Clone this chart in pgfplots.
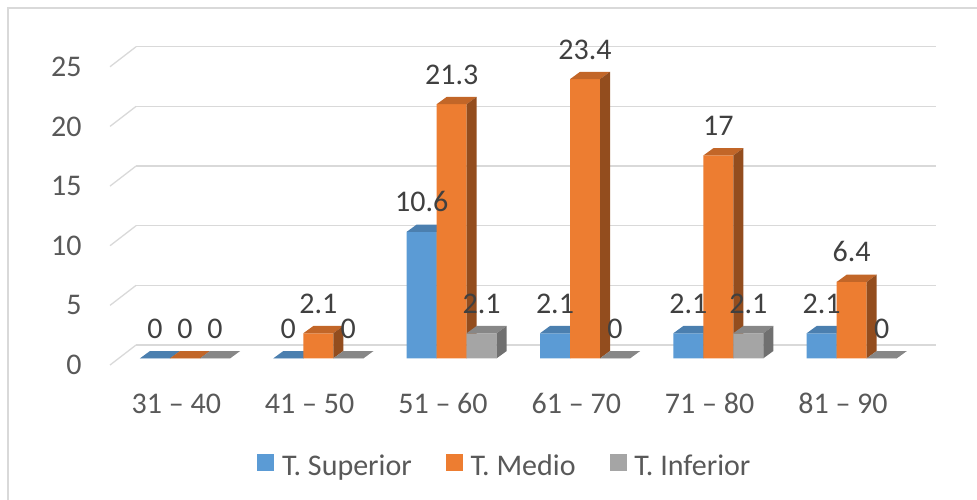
\documentclass[border=0pt]{standalone}
\usepackage{fontspec}
\setmainfont{Carlito}
\usepackage{pgfplots}
\usepackage{pgfplotstable}
\pgfplotsset{compat=1.18}

% one screen pixel of the drawing
\newlength\pxu
\setlength\pxu{0.5pt}
% corners of the bar faces
\newdimen\fL \newdimen\fR \newdimen\fLd \newdimen\fRd
\newdimen\fD \newdimen\fH \newdimen\fDH

\definecolor{cblue}{HTML}{5B9BD5}
\definecolor{corange}{HTML}{ED7D31}
\definecolor{cgray}{HTML}{A5A5A5}
\definecolor{gridgray}{HTML}{D9D9D9}
\definecolor{labelgray}{HTML}{595959}
\definecolor{valuegray}{HTML}{404040}

% percentages per age group
\pgfplotstableread{
x   sup   med   inf
0   0     0     0
1   0     2.1   0
2   10.6  21.3  2.1
3   2.1   23.4  0
4   2.1   17    2.1
5   2.1   6.4   0
}\datatable

% empty marker: the scatter code below draws the faces itself
\pgfdeclareplotmark{blank}{}
% oblique stroke of the side wall at each gridline
\pgfdeclareplotmark{walldiag}{%
  \pgfpathmoveto{\pgfpoint{-8.3\pxu}{-6.7\pxu}}%
  \pgfpathlineto{\pgfpoint{17.7\pxu}{13.3\pxu}}%
  \pgfusepathqstroke}

\pgfplotsset{
  % top and right faces of a 3-D bar; #1 bar shift (px), #2 top colour, #3 side colour
  faces/.style n args={3}{
    only marks, mark=blank, scatter, forget plot,
    visualization depends on={rawy \as \barval},
    scatter/@pre marker code/.code={%
      \fL=#1\pxu \advance\fL by -15\pxu
      \fR=#1\pxu \advance\fR by 15\pxu
      \fLd=\fL \advance\fLd by 10\pxu
      \fRd=\fR \advance\fRd by 10\pxu
      \fD=7.3\pxu
      \fH=\barval\pxu \fH=-11.93\fH
      \fDH=\fD \advance\fDH by \fH
      \pgfsetfillcolor{#2}%
      \pgfpathmoveto{\pgfqpoint{\fL}{0pt}}%
      \pgfpathlineto{\pgfqpoint{\fR}{0pt}}%
      \pgfpathlineto{\pgfqpoint{\fRd}{\fD}}%
      \pgfpathlineto{\pgfqpoint{\fLd}{\fD}}%
      \pgfpathclose
      \pgfusepath{fill}%
      \pgfsetfillcolor{#3}%
      \pgfpathmoveto{\pgfqpoint{\fR}{0pt}}%
      \pgfpathlineto{\pgfqpoint{\fRd}{\fD}}%
      \pgfpathlineto{\pgfqpoint{\fRd}{\fDH}}%
      \pgfpathlineto{\pgfqpoint{\fR}{\fH}}%
      \pgfpathclose
      \pgfusepath{fill}%
    },
    scatter/@post marker code/.code={},
  },
  front/.style 2 args={
    ybar, bar width=30\pxu, bar shift=#1\pxu, fill=#2, draw=none,
    legend image code/.code={\fill[##1] (0,-4\pxu) rectangle (17\pxu,12.5\pxu);},
  },
  values/.style={
    draw=none, mark=none, forget plot, nodes near coords,
    every node near coord/.append style={anchor=base, inner sep=0pt,
      yshift=20\pxu, xshift=#1\pxu, text=valuegray,
      /pgf/number format/assume math mode=true},
  },
}

\begin{document}
\begin{tikzpicture}[font=\fontsize{15}{18}\selectfont]
\useasboundingbox (-185\pxu,-140.7\pxu) rectangle (792\pxu,358.3\pxu);
% chart area border
\draw[gridgray, line width=1.3\pxu] (-177\pxu,-150\pxu) -- (-177\pxu,350.3\pxu) -- (800\pxu,350.3\pxu);
\begin{axis}[
  at={(-66.667\pxu,0)}, anchor=south west,
  x=133.333\pxu, y=11.93\pxu,
  xmin=-0.5, xmax=5.5, ymin=0, ymax=26,
  clip=false,
  clip marker paths=true,
  axis line style={draw=none},
  major tick length=0pt,
  xtick={0,...,5},
  xticklabels={31 – 40,41 – 50,51 – 60,61 – 70,71 – 80,81 – 90},
  ytick={0,5,...,25},
  /pgf/number format/assume math mode=true,
  xticklabel style={anchor=base, inner sep=0pt, xshift=-8.7\pxu, yshift=-54.7\pxu, text=labelgray},
  yticklabel style={anchor=east, inner sep=0pt, xshift=-36.3\pxu, yshift=-6.7\pxu, text=labelgray},
  ymajorgrids,
  major grid style={gridgray, line width=1.3\pxu, xshift=17.7\pxu, yshift=13.3\pxu},
  legend columns=3,
  legend style={draw=none, fill=none, inner sep=0pt, outer sep=0pt,
    at={(0.17375,-0.3488)}, anchor=west, text=labelgray,
    nodes={inner sep=0pt},
    /tikz/every odd column/.append style={column sep=7.7\pxu},
    /tikz/every even column/.append style={column sep=34\pxu}},
]
% side wall strokes
\addplot[only marks, mark=walldiag, gridgray, line width=1.3\pxu, forget plot]
  coordinates {(-0.5,0) (-0.5,5) (-0.5,10) (-0.5,15) (-0.5,20) (-0.5,25)};

\addplot[front={-30}{cblue}] table[x=x, y=sup] {\datatable};
\addlegendentry{T. Superior}
\addplot[faces={-30}{cblue!82!black}{cblue!62!black}] table[x=x, y=sup] {\datatable};

\addplot[front={0}{corange}] table[x=x, y=med] {\datatable};
\addlegendentry{T. Medio}
\addplot[faces={0}{corange!82!black}{corange!62!black}] table[x=x, y=med] {\datatable};

\addplot[front={30}{cgray}] table[x=x, y=inf] {\datatable};
\addlegendentry{T. Inferior}
\addplot[faces={30}{cgray!82!black}{cgray!68!black}] table[x=x, y=inf] {\datatable};

% value labels on top of everything
\addplot[values=-30] table[x=x, y=sup] {\datatable};
\addplot[values=0]   table[x=x, y=med] {\datatable};
\addplot[values=30]  table[x=x, y=inf] {\datatable};
\end{axis}
\end{tikzpicture}
\end{document}
